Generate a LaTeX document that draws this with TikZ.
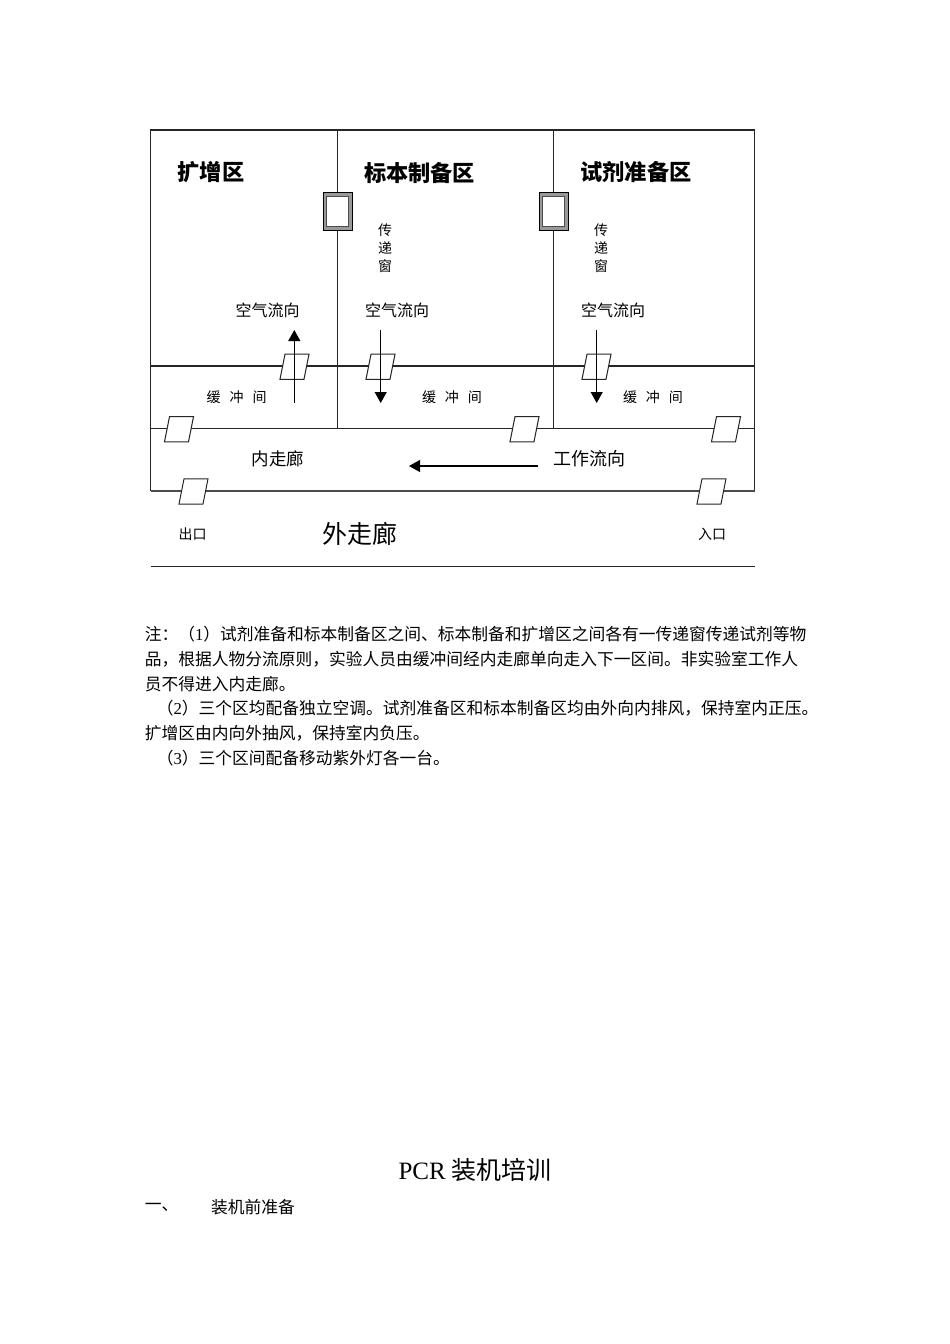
\documentclass[tikz,border=0pt]{standalone}
\usepackage{fontspec}
\setmainfont{Noto Sans CJK SC}
\newfontfamily\latinfont{Liberation Serif}
\usetikzlibrary{arrows.meta}
\usetikzlibrary{positioning}

\begin{document}
\begin{tikzpicture}[x=1pt,y=-1pt,>={Triangle[length=11pt,width=12pt]},line width=1.1pt,
                    inner sep=0pt]
	\tikzstyle{wall}=[draw=black!85, line width=1.3pt]
	\tikzstyle{door}=[draw=black!85, fill=white, line width=1pt, minimum width=24pt, minimum height=25.3pt, xslant=0.2]
	\tikzstyle{boxouter}=[draw=black, fill=black!40, line width=1pt, minimum width=29pt, minimum height=38pt]
	\tikzstyle{boxinner}=[draw=black!70, fill=white, line width=.8pt, minimum width=22pt, minimum height=30pt]
	\tikzstyle{zone}=[font=\bfseries\fontsize{22.2}{22.2}\selectfont]
	\tikzstyle{small}=[font=\fontsize{14}{17}\selectfont, align=center]
	\tikzstyle{body}=[anchor=west, font=\fontsize{16.75}{20}\selectfont]
	\useasboundingbox (0,0) rectangle (950,1344);

	% walls
	\coordinate (tl) at (150.7,130);
	\coordinate (tr) at (754.7,130);
	\coordinate (bl) at (150.7,490.7);
	\coordinate (br) at (754.7,490.7);
	\coordinate (ta) at (337.6,130);
	\coordinate (tb) at (553.6,130);
	\coordinate (ma) at (337.6,428.7);
	\coordinate (mb) at (553.6,428.7);
	\coordinate (bufl) at (150.7,366);
	\coordinate (bufr) at (754.7,366);
	\coordinate (corl) at (150.7,428.7);
	\coordinate (corr) at (754.7,428.7);
	\coordinate (outl) at (150.7,566.3);
	\coordinate (outr) at (754.7,566.3);
	\draw[wall] (tl) -- (tr) -- (br) -- (bl) -- cycle;
	\draw[wall] (ta) -- (ma);
	\draw[wall] (tb) -- (mb);
	\draw[wall] (bufl) -- (bufr);
	\draw[wall] (corl) -- (corr);
	\draw[wall] (outl) -- (outr);
	\draw[wall,line width=1.7pt,draw=black!70] (bl) -- (br);

	% pass boxes
	\node[boxouter] (boxA) at (337.5,211) {};
	\node[boxinner] (winA) at (boxA) {};
	\node[boxouter] (boxB) at (553.5,211) {};
	\node[boxinner] (winB) at (boxB) {};

	% doors
	\node[door] (doorA) at (294.5,366.7) {};
	\node[door] (doorB) at (380.5,366.7) {};
	\node[door] (doorC) at (596.5,366.7) {};
	\node[door] (doorD) at (179,429.2) {};
	\node[door] (doorE) at (524.5,429.2) {};
	\node[door] (doorF) at (726,429.2) {};
	\node[door] (doorG) at (193.5,491.4) {};
	\node[door] (doorH) at (711.5,491.4) {};

	% labels
	\node[zone] (amp) at (211,172.5) {扩增区};
	\node[zone] (sample) at (419.5,172.5) {标本制备区};
	\node[zone] (reagent) at (636,172.5) {试剂准备区};
	\node[small] (passA) at (385,248) {传\\[1pt]递\\[1pt]窗};
	\node[small] (passB) at (601,248) {传\\[1pt]递\\[1pt]窗};
	\node[small,font=\fontsize{16}{16}\selectfont] (airA) at (267.5,310) {空气流向};
	\node[small,font=\fontsize{16}{16}\selectfont] (airB) at (397,310) {空气流向};
	\node[small,font=\fontsize{16}{16}\selectfont] (airC) at (613,310) {空气流向};
	\node[small] (bufA) at (236.7,397) {缓\hspace{9pt}冲\hspace{9pt}间};
	\node[small] (bufB) at (452,397) {缓\hspace{9pt}冲\hspace{9pt}间};
	\node[small] (bufC) at (653,397) {缓\hspace{9pt}冲\hspace{9pt}间};
	\node[small,font=\fontsize{17.5}{17.5}\selectfont] (inner) at (278,459) {内走廊};
	\node[small,font=\fontsize{18}{18}\selectfont] (work) at (589,459) {工作流向};
	\node[small] (exit) at (192.5,534) {出口};
	\node[small] (entry) at (712,534) {入口};
	\node[small,font=\fontsize{25}{25}\selectfont] (outer) at (359.5,534) {外走廊};

	% flow arrows
	\coordinate (upA) at (294.3,403);
	\coordinate (upB) at (294.3,330);
	\coordinate (dnA) at (380.7,330);
	\coordinate (dnB) at (380.7,403);
	\coordinate (dnC) at (596.7,330);
	\coordinate (dnD) at (596.7,403);
	\coordinate (wkA) at (538,466);
	\coordinate (wkB) at (409,466);
	\draw[->] (upA) -- (upB);
	\draw[->] (dnA) -- (dnB);
	\draw[->] (dnC) -- (dnD);
	\draw[->] (wkA) -- (wkB);

	% notes
	\node[body] (noteA) at (144.3,634) {注：（{\latinfont 1}）试剂准备和标本制备区之间、标本制备和扩增区之间各有一传递窗传递试剂等物};
	\node[body] (noteB) at (144.3,659) {品，根据人物分流原则，实验人员由缓冲间经内走廊单向走入下一区间。非实验室工作人};
	\node[body] (noteC) at (144.3,684) {员不得进入内走廊。};
	\node[body] (noteD) at (156.3,708) {（{\latinfont 2}）三个区均配备独立空调。试剂准备区和标本制备区均由外向内排风，保持室内正压。};
	\node[body] (noteE) at (144.3,733) {扩增区由内向外抽风，保持室内负压。};
	\node[body] (noteF) at (156.3,758) {（{\latinfont 3}）三个区间配备移动紫外灯各一台。};
	\node[font=\fontsize{25}{25}\selectfont] (title) at (475,1170) {{\latinfont PCR} 装机培训};
	\node[body] (headA) at (144.3,1207) {一、};
	\node[body] (headB) at (210.5,1207) {装机前准备};
\end{tikzpicture}
\end{document}
